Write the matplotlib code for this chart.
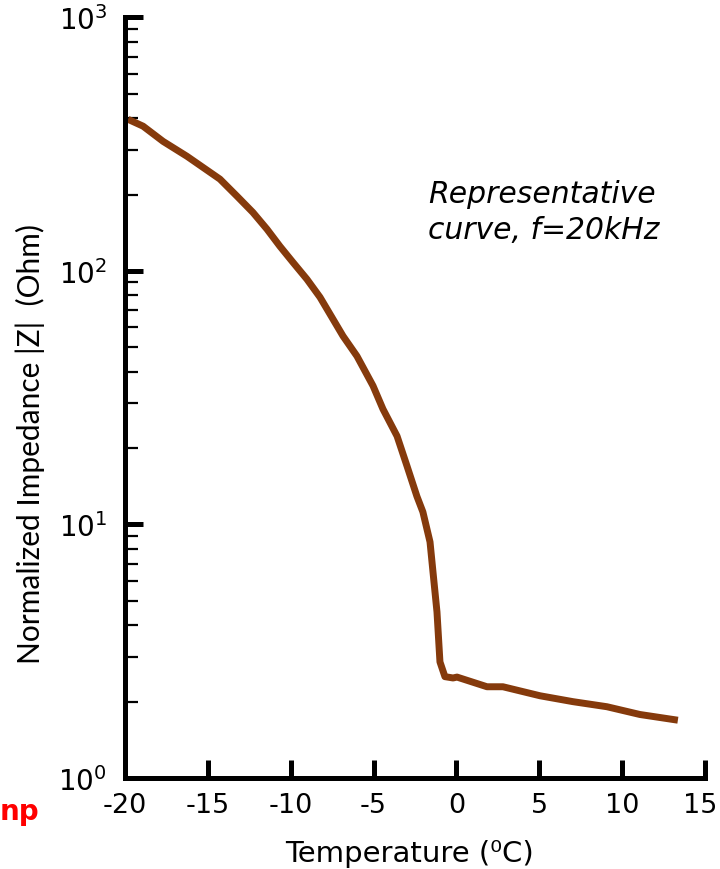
import matplotlib
matplotlib.use("Agg")
import matplotlib.pyplot as plt
import matplotlib.transforms as mtransforms
from matplotlib.ticker import FixedLocator, LogLocator, NullFormatter

plt.rcParams['mathtext.fontset'] = 'custom'
plt.rcParams['mathtext.rm'] = 'Lato'

temperature = [-19.82, -18.91, -17.7, -16.26, -14.27, -13.24, -12.28, -11.43, -10.65, -9.86,
               -9.02, -8.23, -6.84, -6.0, -5.03, -4.43, -3.58, -2.98, -2.38, -2.02,
               -1.59, -1.41, -1.17, -0.99, -0.69, -0.2, 0.04, 1.85, 2.81,
               5.05, 7.04, 9.09, 11.08, 13.37]
impedance = [396, 372, 324, 283, 230, 197, 170, 146, 125, 108,
             92.7, 78.7, 55.3, 46.1, 35.2, 28.5, 22.3, 17.0, 12.9, 11.2,
             8.53, 6.49, 4.52, 2.87, 2.51, 2.48, 2.5, 2.29, 2.29,
             2.11, 2.0, 1.91, 1.78, 1.69]
x_ticks = [-20, -15, -10, -5, 0, 5, 10, 15]
y_ticks = [1, 10, 100, 1000]
y_tick_labels = [r'$\mathregular{10^{0}}$', r'$\mathregular{10^{1}}$',
                 r'$\mathregular{10^{2}}$', r'$\mathregular{10^{3}}$']

fig = plt.figure(figsize=(7.2, 8.7), dpi=100)
ax = fig.add_axes([0.1736, 0.1046, 0.979 - 0.1736, 0.979 - 0.1046])
ax.plot(temperature, impedance, color='#853A0C', lw=5, solid_capstyle='butt',
        solid_joinstyle='round')
ax.set_yscale('log')
ax.set_xlim(-20, 15)
ax.set_ylim(1, 1000)

for s in ['top', 'right']:
    ax.spines[s].set_visible(False)
for s in ['left', 'bottom']:
    ax.spines[s].set_linewidth(3.6)
    ax.spines[s].set_capstyle('projecting')

ax.xaxis.set_major_locator(FixedLocator(x_ticks))
ax.set_xticklabels([str(t) for t in x_ticks], fontfamily='DejaVu Sans', fontsize=19.5)
ax.yaxis.set_major_locator(FixedLocator(y_ticks))
ax.set_yticklabels(y_tick_labels, fontsize=20)
ax.yaxis.set_minor_locator(LogLocator(base=10, subs=range(2, 10)))
ax.yaxis.set_minor_formatter(NullFormatter())
ax.tick_params(axis='both', which='major', direction='in', length=13, width=3.6, color='black')
ax.tick_params(axis='x', which='major', pad=10)
ax.tick_params(axis='y', which='major', pad=13)
ax.tick_params(axis='y', which='minor', direction='in', length=9, width=1.6)
ax.tick_params(axis='x', which='minor', length=0)

# nudge the last x tick label slightly left so it stays inside the figure
last_label = ax.get_xticklabels()[-1]
last_label.set_transform(last_label.get_transform() +
                         mtransforms.ScaledTranslation(-5 / 100, 0, fig.dpi_scale_trans))

ax.set_xlabel('Temperature (⁰C)', fontfamily='DejaVu Sans', fontsize=21)
ax.xaxis.set_label_coords(0.49, -(840 - 779) / 761)
ax.set_ylabel('Normalized Impedance |Z|  (Ohm)', fontfamily='Lato', fontsize=21.5)
ax.yaxis.set_label_coords((45 - 125) / 580, 1 - (444 - 18) / 761)

ax.text((428 - 125) / 580, 1 - (212 - 18) / 761, 'Representative\ncurve, f=20kHz',
        transform=ax.transAxes, fontfamily='DejaVu Sans', fontstyle='italic', fontsize=21.5,
        ha='left', va='center', linespacing=1.3)

fig.text(0.0, 1 - 812 / 870, 'np', color='#FF0000', fontweight='bold',
         fontfamily='DejaVu Sans', fontsize=20, ha='left', va='center')

fig.savefig('out.png', dpi=100)
